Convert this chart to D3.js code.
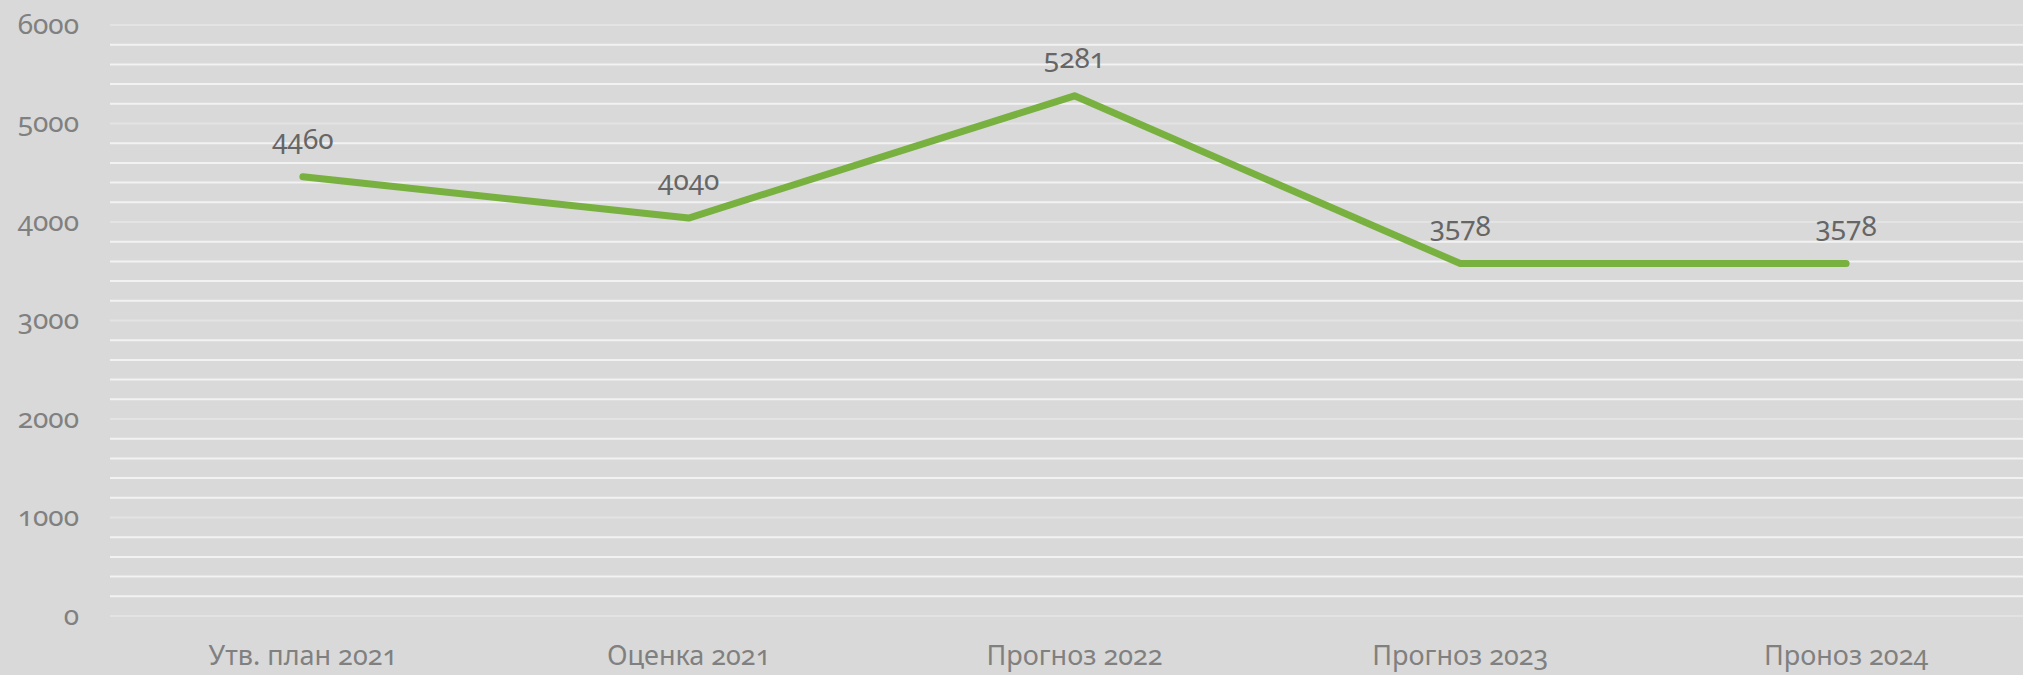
<!DOCTYPE html>
<html>
<head>
<meta charset="utf-8">
<script src="https://cdn.jsdelivr.net/npm/d3@7"></script>
<style>
  html, body { margin: 0; padding: 0; background: #d9d9d9; overflow: hidden; }
  svg text { font-family: "Noto Sans", "Open Sans", sans-serif; font-variant-numeric: oldstyle-nums; }
</style>
</head>
<body>
<svg id="chart"></svg>
<script>
const categories = ["Утв. план 2021", "Оценка 2021", "Прогноз 2022", "Прогноз 2023", "Проноз 2024"];
const values = [4460, 4040, 5281, 3578, 3578];
const yTicks = [0, 1000, 2000, 3000, 4000, 5000, 6000];

(function() {
    const width = 2023;
    const height = 675;
    const margin = { top: 25, right: -16, bottom: 59, left: 110 };

    const svg = d3.select("#chart")
        .attr("width", width)
        .attr("height", height);

    const x = d3.scaleBand()
        .domain(categories)
        .range([margin.left, width - margin.right]);

    const y = d3.scaleLinear()
        .domain([0, 6000])
        .range([height - margin.bottom, margin.top]);

    // --- GRID ---
    const minor = d3.range(0, 6001, 200);
    svg.append("g")
        .selectAll("line")
        .data(minor)
        .join("line")
        .attr("x1", margin.left)
        .attr("x2", width)
        .attr("y1", d => y(d))
        .attr("y2", d => y(d))
        .attr("stroke", d => d % 1000 === 0 ? "#e3e3e3" : "#f2f2f2")
        .attr("stroke-width", 2);

    // --- Y AXIS ---
    const yAxis = svg.append("g")
        .attr("transform", `translate(${margin.left - 31},0)`)
        .call(d3.axisLeft(y).tickValues(yTicks).tickFormat(d3.format("d")).tickSize(0).tickPadding(0));
    yAxis.select(".domain").remove();
    yAxis.selectAll("text")
        .attr("font-size", "28px")
        .attr("fill", "#808080")
        .attr("dy", "0.3em");

    // --- X AXIS ---
    const xAxis = svg.append("g")
        .attr("transform", `translate(0,${height - margin.bottom})`)
        .call(d3.axisBottom(x).tickSize(0).tickPadding(0));
    xAxis.select(".domain").remove();
    xAxis.selectAll("text")
        .attr("font-size", "27px")
        .attr("fill", "#808080")
        .attr("dy", "1.8em");

    // --- LINE ---
    const data = categories.map((c, i) => ({ cat: c, value: values[i] }));
    const line = d3.line()
        .x(d => x(d.cat) + x.bandwidth() / 2)
        .y(d => y(d.value));

    svg.append("path")
        .datum(data)
        .attr("d", line)
        .attr("fill", "none")
        .attr("stroke", "#78b13f")
        .attr("stroke-width", 7)
        .attr("stroke-linecap", "round")
        .attr("stroke-linejoin", "round");

    // --- DATA LABELS ---
    svg.append("g")
        .selectAll("text")
        .data(data)
        .join("text")
        .attr("x", d => x(d.cat) + x.bandwidth() / 2)
        .attr("y", d => y(d.value) - 28)
        .attr("text-anchor", "middle")
        .attr("font-size", "28px")
        .attr("fill", "#666666")
        .text(d => d.value);
})();
</script>
</body>
</html>
